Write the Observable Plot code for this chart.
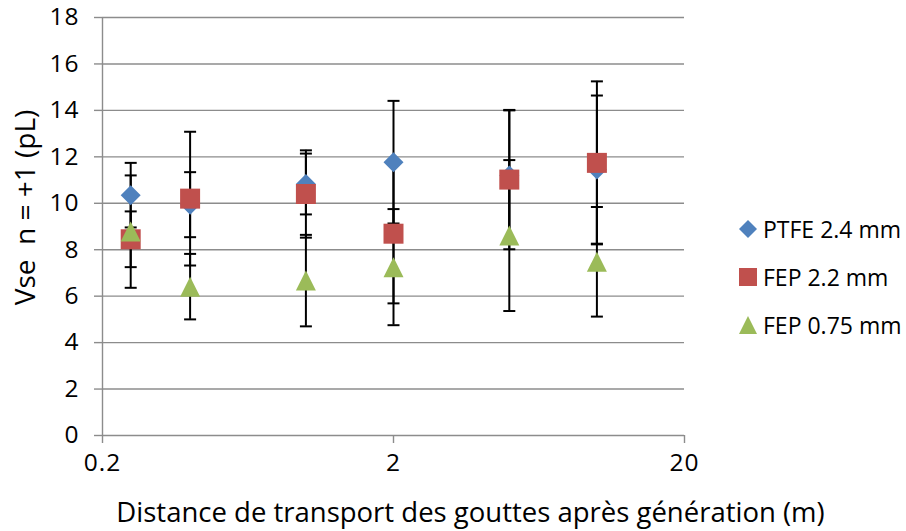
<!DOCTYPE html>
<html>
<head>
<meta charset="utf-8">
<script src="https://cdn.jsdelivr.net/npm/d3@7"></script>
<script src="https://cdn.jsdelivr.net/npm/@observablehq/plot@0.6"></script>
<style>
  html, body { margin: 0; padding: 0; background: #fff; }
  body { font-family: "Open Sans", sans-serif; }
  #wrap { position: relative; width: 906px; height: 531px; overflow: hidden; }
  #wrap svg text { font-family: "Open Sans", sans-serif; }
  #wrap svg g[aria-label="y-axis tick label"] text,
  #wrap svg g[aria-label="x-axis tick label"] text { letter-spacing: 1px; }
  .item { position: absolute; left: 738px; height: 30px; display: flex; align-items: center;
          white-space: nowrap; font-size: 23px; color: #000; }
  .item svg { margin-right: 5px; }
</style>
</head>
<body>
<div id="wrap"></div>
<script>
// ---- data ----
const distances = [0.25, 0.4, 1, 2, 5, 10];           // m (log axis)
const seriesNames = ["PTFE 2.4 mm", "FEP 2.2 mm", "FEP 0.75 mm"];
const ptfe24    = [10.35, 9.94, 10.83, 11.77, 11.2, 11.45];
const ptfe24Err = [1.39, 1.40, 1.31, 2.64, 2.80, 3.19];
const fep22     = [8.45, 10.2, 10.4, 8.69, 11.02, 11.74];
const fep22Err  = [1.20, 2.88, 1.88, 3.00, 3.00, 3.51];
const fep075    = [8.78, 6.41, 6.67, 7.25, 8.61, 7.48];
const fep075Err = [2.42, 1.41, 1.97, 2.50, 3.25, 2.36];
const xTicks = [0.2, 2, 20];
const yTicks = [0, 2, 4, 6, 8, 10, 12, 14, 16, 18];
const xLabel = "Distance de transport des gouttes après génération (m)";
const yLabel = "Vse  n = +1 (pL)";
const colors = ["#4F81BD", "#C0504D", "#9BBB59"];

// ---- build table ----
const valueSets = [ptfe24, fep22, fep075];
const errSets = [ptfe24Err, fep22Err, fep075Err];
const rows = [];
seriesNames.forEach((s, i) => {
  distances.forEach((d, j) => {
    rows.push({series: s, idx: i, x: d, y: valueSets[i][j], lo: valueSets[i][j] - errSets[i][j], hi: valueSets[i][j] + errSets[i][j]});
  });
});

// ---- custom symbols (Excel-like markers) ----
const half = size => Math.sqrt(size / Math.PI);
const capSym = {draw(c, s) { const r = half(s); c.moveTo(-r, 0); c.lineTo(r, 0); }};
const diamondSym = {draw(c, s) { const r = half(s); c.moveTo(0, -r); c.lineTo(r, 0); c.lineTo(0, r); c.lineTo(-r, 0); c.closePath(); }};
const squareSym = {draw(c, s) { const r = half(s); c.moveTo(-r, -r); c.lineTo(r, -r); c.lineTo(r, r); c.lineTo(-r, r); c.closePath(); }};
const triangleSym = {draw(c, s) { const r = half(s); c.moveTo(0, -r); c.lineTo(r, r); c.lineTo(-r, r); c.closePath(); }};
const symbols = [diamondSym, squareSym, triangleSym];

const gray = "#8c8c8c";
const tickFont = 24.5;

const chart = Plot.plot({
  width: 906,
  height: 531,
  marginLeft: 102,
  marginRight: 222,
  marginTop: 17,
  marginBottom: 96,
  style: {background: "transparent", overflow: "visible"},
  x: {type: "log", domain: [xTicks[0], xTicks[xTicks.length - 1]]},
  y: {domain: [yTicks[0], yTicks[yTicks.length - 1]]},
  marks: [
    Plot.gridY(yTicks, {stroke: gray, strokeOpacity: 1, strokeWidth: 1.4}),
    Plot.ruleX([xTicks[0]], {stroke: gray, strokeWidth: 1.4}),
    Plot.axisY(yTicks, {tickSize: 8, tickPadding: 15, stroke: gray, strokeWidth: 1.4, fill: "#000", fontSize: tickFont, label: null}),
    Plot.axisX(xTicks, {tickSize: 8, tickPadding: 10, stroke: gray, strokeWidth: 1.4, fill: "#000", fontSize: tickFont, label: null, tickFormat: d => String(d)}),
    Plot.ruleX(rows, {x: "x", y1: "lo", y2: "hi", stroke: "#000", strokeWidth: 2}),
    Plot.dot(rows, {x: "x", y: "lo", symbol: capSym, r: 6, stroke: "#000", strokeWidth: 2, fill: "none"}),
    Plot.dot(rows, {x: "x", y: "hi", symbol: capSym, r: 6, stroke: "#000", strokeWidth: 2, fill: "none"}),
    ...seriesNames.map((s, i) => Plot.dot(rows.filter(r => r.idx === i), {x: "x", y: "y", symbol: symbols[i], r: 10, fill: colors[i], stroke: "none"})),
    Plot.text([yLabel], {frameAnchor: "left", textAnchor: "middle", lineAnchor: "middle", rotate: -90, dx: -76, dy: -19, fontSize: 28, fill: "#000"}),
    Plot.text([xLabel], {frameAnchor: "bottom", textAnchor: "middle", lineAnchor: "middle", dx: 77, dy: 78, fontSize: 27.5, fill: "#000"})
  ]
});
chart.querySelectorAll("text").forEach(t => t.style.whiteSpace = "pre");
const wrap = document.getElementById("wrap");
wrap.appendChild(chart);

// ---- legend ----
const legendY = [229, 277, 325];
const legendPaths = [
  "M9,0 L18,9 L9,18 L0,9 Z",
  "M0,0 L18,0 L18,18 L0,18 Z",
  "M9,0 L18,18 L0,18 Z"
];
seriesNames.forEach((s, i) => {
  const div = document.createElement("div");
  div.className = "item";
  div.style.top = (legendY[i] - 15) + "px";
  div.innerHTML = `<svg width="20" height="18" viewBox="-1 0 20 18"><path d="${legendPaths[i]}" fill="${colors[i]}"/></svg><span>${s}</span>`;
  wrap.appendChild(div);
});
</script>
</body>
</html>
